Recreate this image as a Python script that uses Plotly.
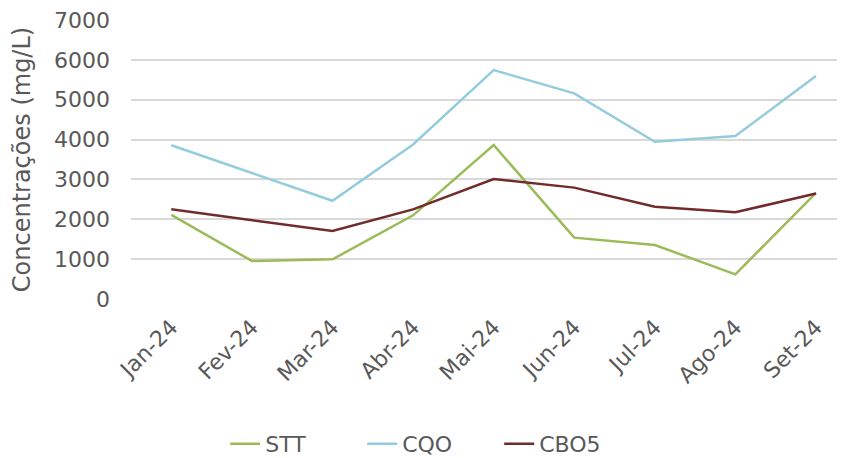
import plotly.graph_objects as go

meses = ["Jan-24", "Fev-24", "Mar-24", "Abr-24", "Mai-24", "Jun-24", "Jul-24", "Ago-24", "Set-24"]

stt = [2110, 955, 995, 2100, 3865, 1540, 1355, 620, 2665]
cqo = [3860, 3160, 2465, 3880, 5745, 5160, 3945, 4090, 5595]
cbo5 = [2250, 1980, 1705, 2250, 3010, 2795, 2315, 2175, 2650]

fig = go.Figure()
fig.add_trace(go.Scatter(x=meses, y=stt, name="STT", mode="lines",
                         line=dict(color="#9BBB59", width=2.5)))
fig.add_trace(go.Scatter(x=meses, y=cqo, name="CQO", mode="lines",
                         line=dict(color="#93CDDD", width=2.5)))
fig.add_trace(go.Scatter(x=meses, y=cbo5, name="CBO5", mode="lines",
                         line=dict(color="#722B2B", width=2.5)))

# page body has an 8px margin, so the figure is sized to fit inside it
fig.update_layout(
    width=837, height=450,
    margin=dict(l=123, r=0, t=12, b=159, autoexpand=False),
    paper_bgcolor="white", plot_bgcolor="white",
    font=dict(family="DejaVu Sans", color="#595959", size=22),
    showlegend=True,
    legend=dict(orientation="h", xref="container", yref="container",
                x=0.505, xanchor="center", y=0.031, yanchor="middle",
                font=dict(size=22, color="#595959"), itemwidth=30,
                entrywidth=92, entrywidthmode="pixels",
                tracegroupgap=0),
    xaxis=dict(type="category", range=[-0.5, 8.36], tickangle=-45,
               showgrid=False, showline=False, ticks="", automargin=False,
               ticklabelstandoff=10, tickfont=dict(size=22)),
    yaxis=dict(range=[0, 7002], dtick=1000, showgrid=True,
               gridcolor="#D9D9D9", gridwidth=1.5, zeroline=False,
               showline=False, ticks="", automargin=False,
               ticklabeloverflow="allow",
               ticklabelstandoff=20, tickfont=dict(size=22),
               title=dict(text="Concentrações (mg/L)", font=dict(size=24), standoff=16)),
)

fig.write_html("out.html")
